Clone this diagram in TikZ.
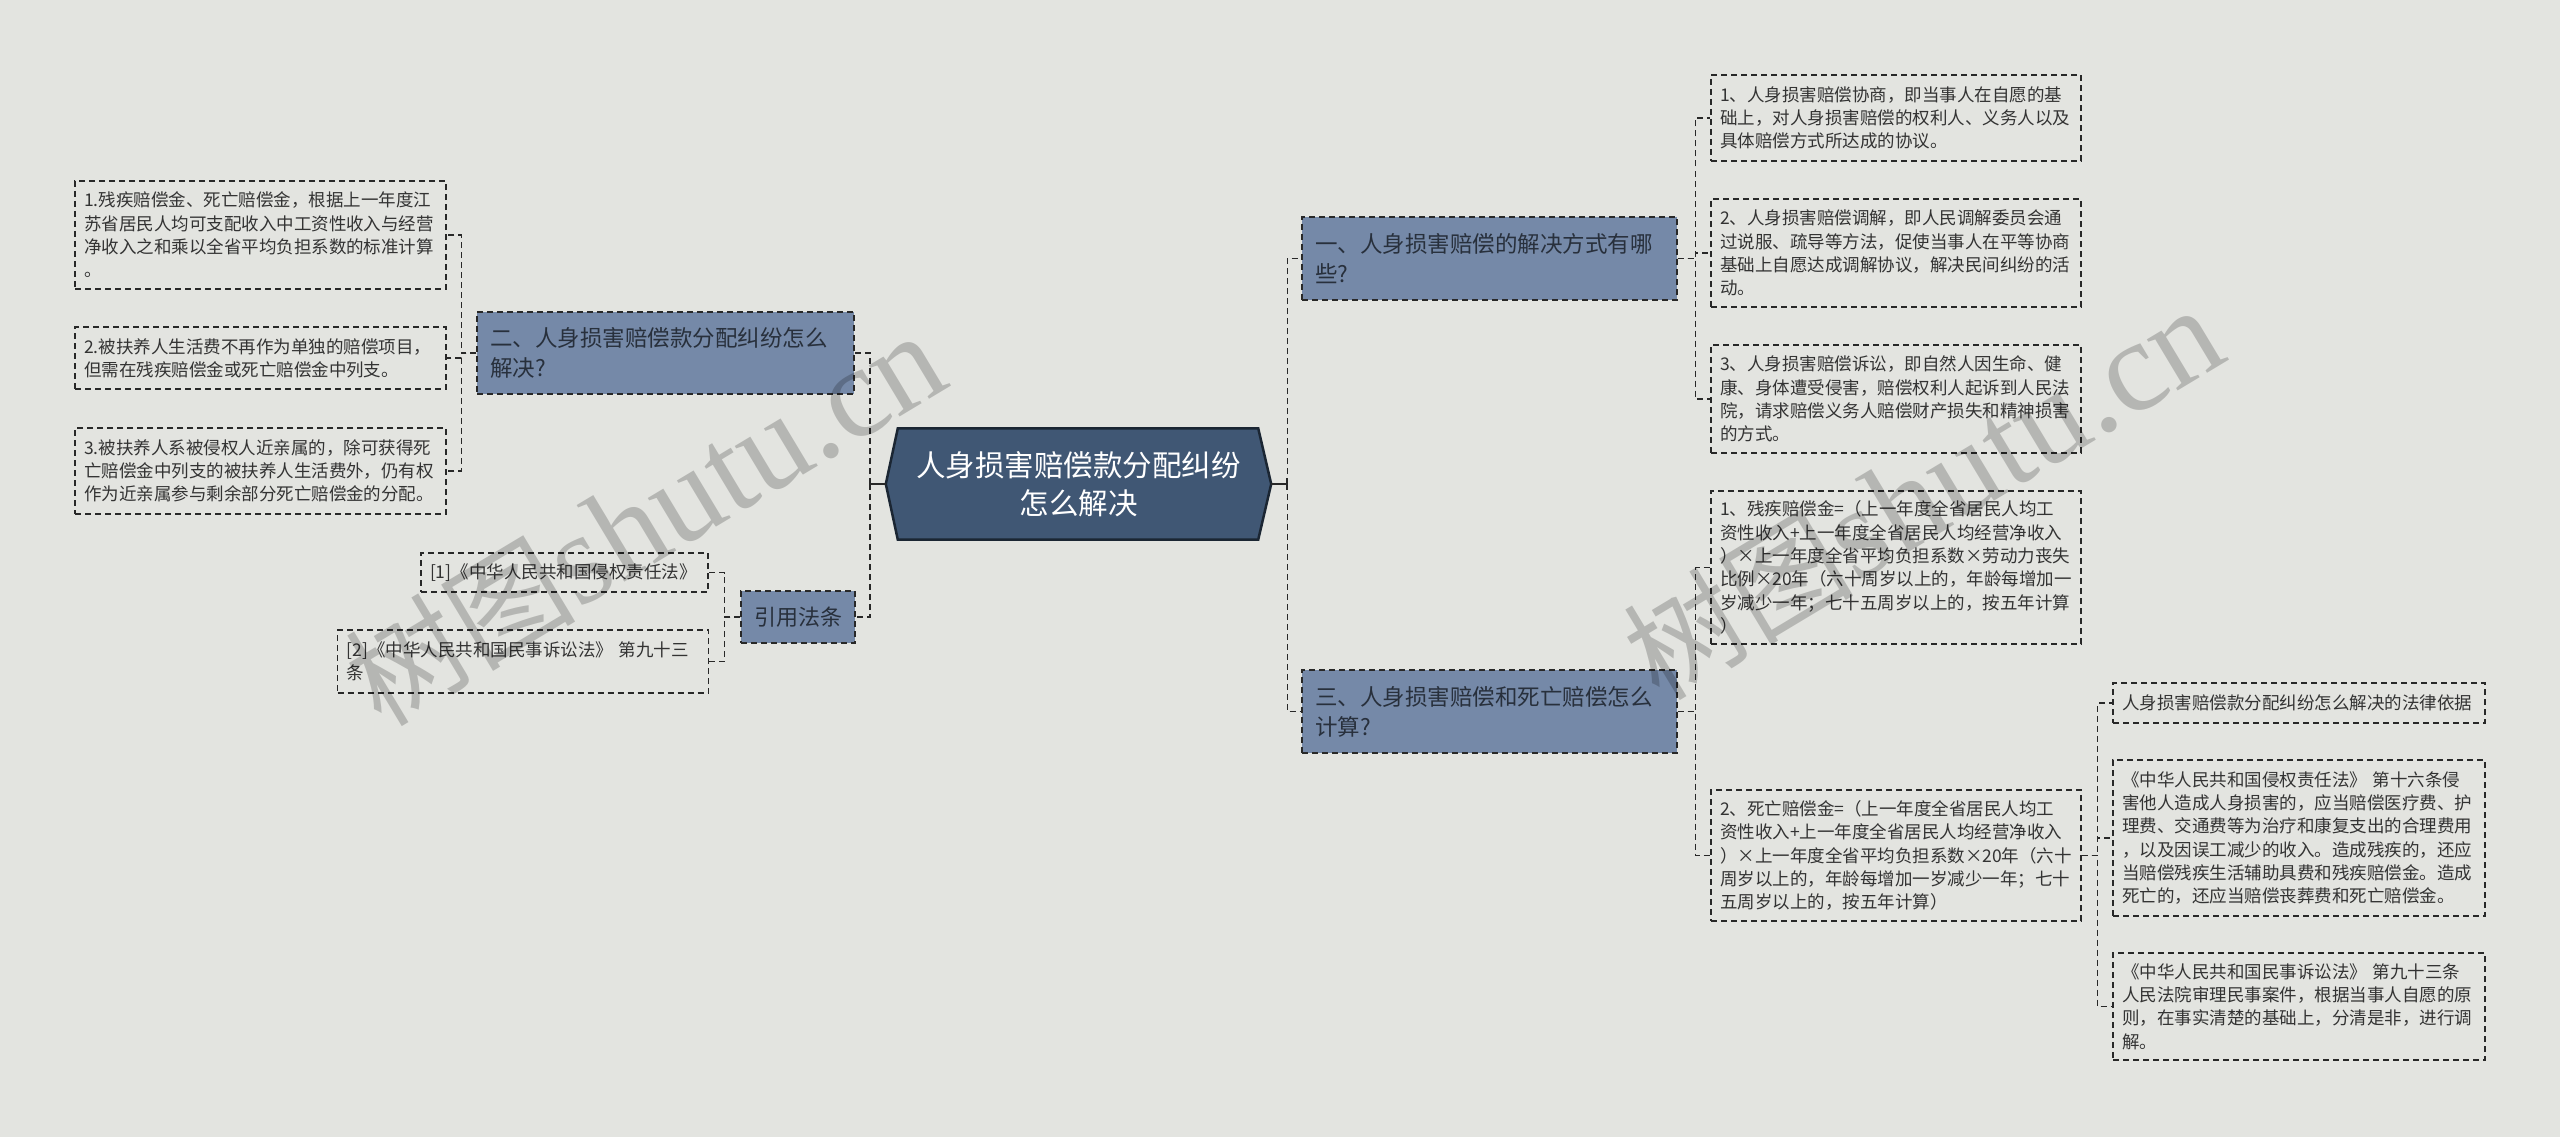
\documentclass[tikz,border=0pt]{standalone}
\usepackage{fontspec}
\setmainfont{Noto Sans CJK SC}
\newfontfamily\wmlatin{Liberation Serif}
\usetikzlibrary{backgrounds}
\definecolor{bgc}{RGB}{227,228,224}
\definecolor{branchc}{RGB}{117,137,168}
\definecolor{rootc}{RGB}{64,87,116}
\definecolor{rootline}{RGB}{27,38,51}
\definecolor{linec}{RGB}{40,40,40}
\definecolor{textc}{RGB}{51,51,51}
\definecolor{btextc}{RGB}{40,48,60}
\begin{document}
\begin{tikzpicture}[x=1pt,y=-1pt,
  leafbox/.style={draw=linec, dash pattern=on 6pt off 4pt, line width=1.4pt, text=textc,
    font=\fontsize{17.5}{23.3}\selectfont, align=left, inner xsep=9pt, inner ysep=0pt},
  branchbox/.style={leafbox, fill=branchc, text=btextc, font=\fontsize{22.5}{30}\selectfont, inner xsep=13pt},
  rootbox/.style={text=white, align=center, font=\fontsize{29.5}{38}\selectfont,
    minimum width=385pt, minimum height=111pt, inner sep=0pt},
  connline/.style={draw=linec, dash pattern=on 6pt off 4pt, line width=1.4pt},
  rootstub/.style={draw=linec, line width=2.4pt},
  wmark/.style={text=black, text opacity=0.2, inner sep=0pt}]
\useasboundingbox (0,0) rectangle (2560,1137);

% root
\node[rootbox] (root) at (1078.5,484) {人身损害赔偿款分配纠纷\\怎么解决};

% left branch
\node[branchbox, minimum width=377pt, minimum height=82pt, text width=351pt] (b2) at (665.5,353)
  {二、人身损害赔偿款分配纠纷怎么\\解决?};
\node[leafbox, minimum width=371pt, minimum height=108pt, text width=353pt] (c1) at (260.5,235)
  {1.残疾赔偿金、死亡赔偿金，根据上一年度江\\苏省居民人均可支配收入中工资性收入与经营\\净收入之和乘以全省平均负担系数的标准计算\\。};
\node[leafbox, minimum width=371pt, minimum height=62pt, text width=353pt] (c2) at (260.5,358)
  {2.被扶养人生活费不再作为单独的赔偿项目，\\但需在残疾赔偿金或死亡赔偿金中列支。};
\node[leafbox, minimum width=371pt, minimum height=86pt, text width=353pt] (c3) at (260.5,471)
  {3.被扶养人系被侵权人近亲属的，除可获得死\\亡赔偿金中列支的被扶养人生活费外，仍有权\\作为近亲属参与剩余部分死亡赔偿金的分配。};

\node[branchbox, minimum width=114pt, minimum height=52pt, align=center, inner xsep=0pt,
  font=\fontsize{22}{28}\selectfont] (cite) at (798,617) {引用法条};
\node[leafbox, minimum width=287pt, minimum height=39pt, text width=269pt] (d1) at (564.5,572.5)
  {[1]《中华人民共和国侵权责任法》};
\node[leafbox, minimum width=371pt, minimum height=63pt, text width=353pt] (d2) at (523,661.5)
  {[2]《中华人民共和国民事诉讼法》 第九十三\\条};

% right branch
\node[branchbox, minimum width=375pt, minimum height=83pt, text width=349pt] (b1) at (1489.5,258.5)
  {一、人身损害赔偿的解决方式有哪\\些?};
\node[branchbox, minimum width=375pt, minimum height=83pt, text width=349pt] (b3) at (1489.5,711.5)
  {三、人身损害赔偿和死亡赔偿怎么\\计算?};

\node[leafbox, minimum width=370pt, minimum height=86pt, text width=352pt] (r1) at (1896,118)
  {1、人身损害赔偿协商，即当事人在自愿的基\\础上，对人身损害赔偿的权利人、义务人以及\\具体赔偿方式所达成的协议。};
\node[leafbox, minimum width=370pt, minimum height=108pt, text width=352pt] (r2) at (1896,253)
  {2、人身损害赔偿调解，即人民调解委员会通\\过说服、疏导等方法，促使当事人在平等协商\\基础上自愿达成调解协议，解决民间纠纷的活\\动。};
\node[leafbox, minimum width=370pt, minimum height=108pt, text width=352pt] (r3) at (1896,399)
  {3、人身损害赔偿诉讼，即自然人因生命、健\\康、身体遭受侵害，赔偿权利人起诉到人民法\\院，请求赔偿义务人赔偿财产损失和精神损害\\的方式。};
\node[leafbox, minimum width=370pt, minimum height=153pt, text width=352pt] (r4) at (1896,567.5)
  {1、残疾赔偿金=（上一年度全省居民人均工\\资性收入+上一年度全省居民人均经营净收入\\）×上一年度全省平均负担系数×劳动力丧失\\比例×20年（六十周岁以上的，年龄每增加一\\岁减少一年；七十五周岁以上的，按五年计算\\）};
\node[leafbox, minimum width=370pt, minimum height=131pt, text width=352pt] (r5) at (1896,855.5)
  {2、死亡赔偿金=（上一年度全省居民人均工\\资性收入+上一年度全省居民人均经营净收入\\）×上一年度全省平均负担系数×20年（六十\\周岁以上的，年龄每增加一岁减少一年；七十\\五周岁以上的，按五年计算）};

\node[leafbox, minimum width=372pt, minimum height=40pt, text width=354pt] (s1) at (2299,703)
  {人身损害赔偿款分配纠纷怎么解决的法律依据};
\node[leafbox, minimum width=372pt, minimum height=156pt, text width=354pt] (s2) at (2299,838)
  {《中华人民共和国侵权责任法》 第十六条侵\\害他人造成人身损害的，应当赔偿医疗费、护\\理费、交通费等为治疗和康复支出的合理费用\\，以及因误工减少的收入。造成残疾的，还应\\当赔偿残疾生活辅助具费和残疾赔偿金。造成\\死亡的，还应当赔偿丧葬费和死亡赔偿金。};
\node[leafbox, minimum width=372pt, minimum height=107pt, text width=354pt] (s3) at (2299,1006.5)
  {《中华人民共和国民事诉讼法》 第九十三条\\人民法院审理民事案件，根据当事人自愿的原\\则，在事实清楚的基础上，分清是非，进行调\\解。};

% background and root shape
\begin{scope}[on background layer]
  \fill[bgc] (0,0) rectangle (2560,1137);
  \filldraw[fill=rootc, draw=rootline, line width=2.5pt, line join=miter]
    (root.west) -- ([xshift=12pt]root.north west) -- ([xshift=-13pt]root.north east)
    -- (root.east) -- ([xshift=-13pt]root.south east) -- ([xshift=12pt]root.south west) -- cycle;
\end{scope}

% connectors from root
\draw[rootstub] (root.west) -- ++(-16,0);
\draw[rootstub] ([xshift=-16pt,yshift=6pt]root.west) -- ++(0,12);
\draw[rootstub] (root.east) -- ++(16,0);
\draw[rootstub] ([xshift=16pt,yshift=6pt]root.east) -- ++(0,12);
\draw[connline] ([xshift=-16pt]root.west) |- (b2.east);
\draw[connline] ([xshift=-16pt]root.west) |- (cite.east);
\draw[connline] ([xshift=16pt]root.east) |- (b1.west);
\draw[connline] ([xshift=16pt]root.east) |- (b3.west);

% left children
\draw[connline] (b2.west) -- ++(-15,0) |- (c1.east);
\draw[connline] (b2.west) -- ++(-15,0) |- (c2.east);
\draw[connline] (b2.west) -- ++(-15,0) |- (c3.east);
\draw[connline] (cite.west) -- ++(-16,0) |- (d1.east);
\draw[connline] (cite.west) -- ++(-16,0) |- (d2.east);

% right children
\draw[connline] (b1.east) -- ++(18,0) |- (r1.west);
\draw[connline] (b1.east) -- ++(18,0) |- (r2.west);
\draw[connline] (b1.east) -- ++(18,0) |- (r3.west);
\draw[connline] (b3.east) -- ++(18,0) |- (r4.west);
\draw[connline] (b3.east) -- ++(18,0) |- (r5.west);
\draw[connline] (r5.east) -- ++(16,0) |- (s1.west);
\draw[connline] (r5.east) -- ++(16,0) |- (s2.west);
\draw[connline] (r5.east) -- ++(16,0) |- (s3.west);

% watermarks
\node[wmark, rotate=31] (wm1) at (645,519)
  {{\fontsize{115}{115}\selectfont 树图}{\wmlatin\fontsize{130}{130}\selectfont shutu.cn}};
\node[wmark, rotate=31] (wm2) at (1923,493)
  {{\fontsize{115}{115}\selectfont 树图}{\wmlatin\fontsize{130}{130}\selectfont shutu.cn}};
\end{tikzpicture}
\end{document}
